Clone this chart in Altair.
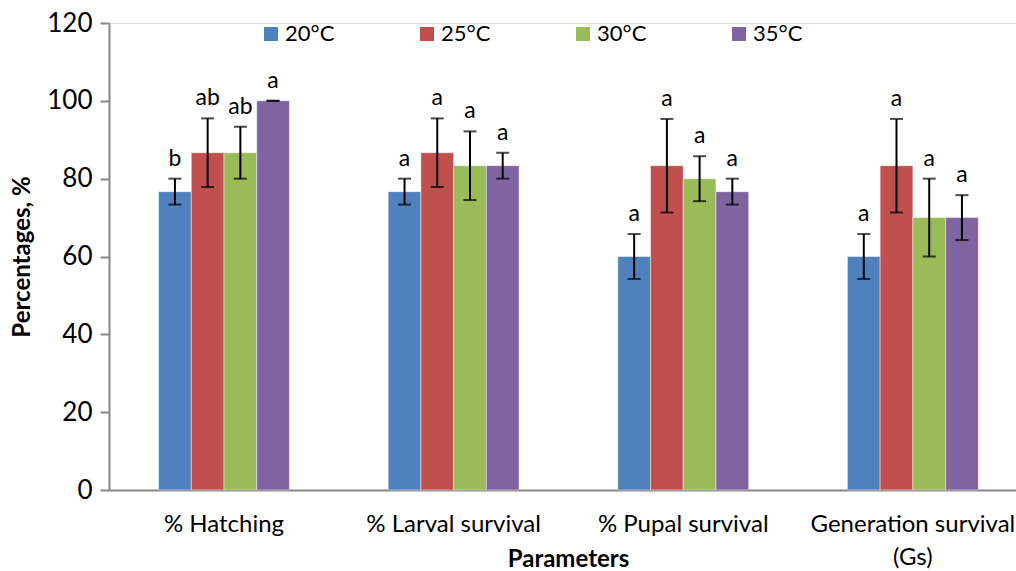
import altair as alt
import pandas as pd

params = ["% Hatching", "% Larval survival", "% Pupal survival", "Generation survival (Gs)"]
temps = ["20°C", "25°C", "30°C", "35°C"]
colors = ["#4F81BD", "#C0504D", "#9BBB59", "#8064A2"]

# means per temperature, in order of params
mean_20 = [76.67, 76.67, 60.0, 60.0]
mean_25 = [86.67, 86.67, 83.33, 83.33]
mean_30 = [86.67, 83.33, 80.0, 70.0]
mean_35 = [100.0, 83.33, 76.67, 70.0]

err_20 = [3.33, 3.33, 5.77, 5.77]
err_25 = [8.82, 8.82, 12.02, 12.02]
err_30 = [6.67, 8.82, 5.77, 10.0]
err_35 = [0.0, 3.33, 3.33, 5.77]

let_20 = ["b", "a", "a", "a"]
let_25 = ["ab", "a", "a", "a"]
let_30 = ["ab", "a", "a", "a"]
let_35 = ["a", "a", "a", "a"]

rows = []
for t, ms, es, ls in zip(temps, [mean_20, mean_25, mean_30, mean_35],
                         [err_20, err_25, err_30, err_35],
                         [let_20, let_25, let_30, let_35]):
    for p, m, e, l in zip(params, ms, es, ls):
        rows.append({"parameter": p, "temp": t, "mean": m, "lo": m - e, "hi": m + e, "letter": l})
df = pd.DataFrame(rows)

FONT = "Lato"

x = alt.X("parameter:N", sort=params,
          scale=alt.Scale(paddingInner=0.43, paddingOuter=0.19, align=0.568),
          axis=alt.Axis(title="Parameters", labelAngle=0, ticks=False, labelFontSize=24,
                        labelFont=FONT, labelColor="black", labelPadding=22,
                        labelLineHeight=33, labelLimit=400,
                        labelExpr="datum.label == 'Generation survival (Gs)' ? ['Generation survival', '(Gs)'] : datum.label",
                        domainColor="#868686", domainWidth=2,
                        titleFont=FONT, titleFontSize=24, titleFontWeight="bold", titleColor="black",
                        titleX=459, titleY=69, titleBaseline="middle"))
xo = alt.XOffset("temp:N", sort=temps, scale=alt.Scale(paddingInner=0, paddingOuter=0))

base = alt.Chart(df).encode(x=x, xOffset=xo)

bars = base.mark_bar(stroke="white", strokeOpacity=0.45, strokeWidth=1).encode(
    y=alt.Y("mean:Q", scale=alt.Scale(domain=[0, 120], nice=False),
            axis=alt.Axis(title="Percentages, %", values=[0, 20, 40, 60, 80, 100, 120], grid=False,
                          tickSize=9, tickColor="#868686", tickWidth=2, domainColor="#868686", domainWidth=2,
                          labelFontSize=26, labelFont=FONT, labelColor="black", labelPadding=8,
                          titleFont=FONT, titleFontSize=24, titleFontWeight="bold", titleColor="black",
                          titleX=-87, titleAngle=270, titleBaseline="middle", titleAlign="center")),
    color=alt.Color("temp:N", sort=temps, scale=alt.Scale(domain=temps, range=colors),
                    legend=alt.Legend(title=None, orient="none", legendX=151, legendY=0,
                                      direction="horizontal", symbolType="square", symbolSize=196,
                                      symbolStrokeWidth=0, labelFontSize=22, labelFont=FONT,
                                      labelColor="black", columnPadding=81, labelOffset=3)),
)

rules = base.mark_rule(color="black", strokeWidth=2).encode(y="lo:Q", y2="hi:Q")
caps_lo = base.mark_tick(color="black", thickness=2, size=13, orient="horizontal").encode(y="lo:Q")
caps_hi = base.mark_tick(color="black", thickness=2, size=13, orient="horizontal").encode(y="hi:Q")
letters = base.mark_text(font=FONT, fontSize=23, color="black", baseline="bottom", dy=-8).encode(
    y="hi:Q", text="letter:N")

chart = alt.layer(bars, rules, caps_lo, caps_hi, letters).properties(
    width=907, height=467,
    autosize=alt.AutoSizeParams(type="none"),
    padding={"left": 109, "top": 23, "right": 0, "bottom": 81},
).configure_view(stroke=None).configure(background="white")

chart.save("out.html", embed_options={"renderer": "svg", "actions": False})
